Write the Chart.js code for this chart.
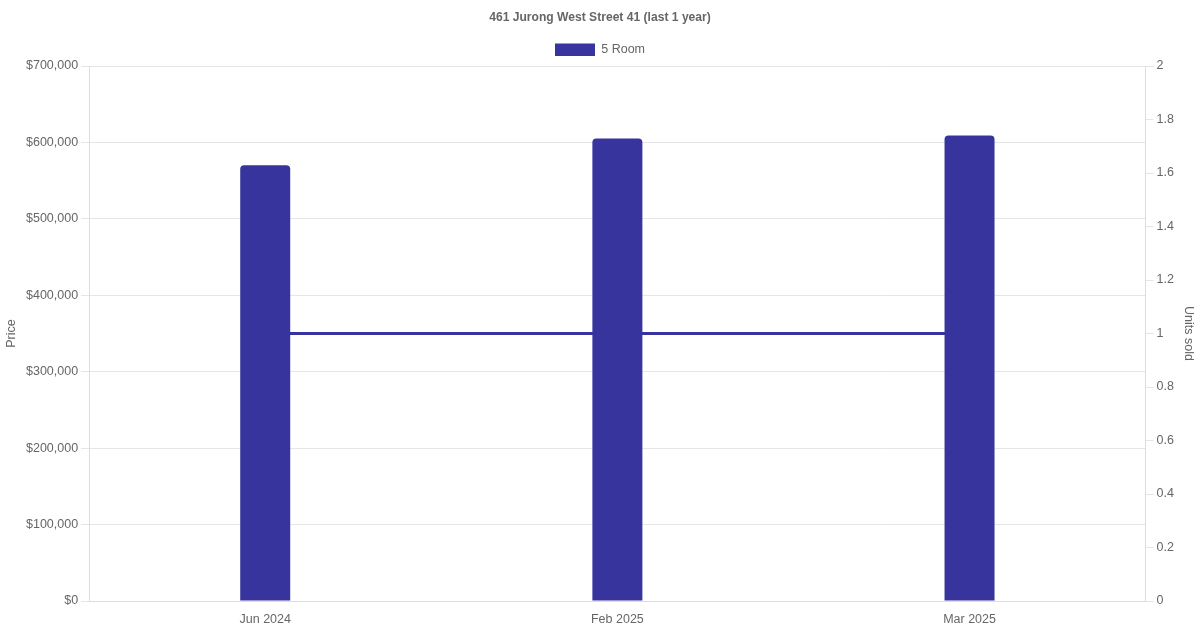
<!DOCTYPE html>
<html>
<head>
<meta charset="utf-8">
<script src="https://cdn.jsdelivr.net/npm/chart.js@4/dist/chart.umd.min.js"></script>
<style>
html,body{margin:0;padding:0;background:#fff;}
#wrap{width:1200px;height:630px;}
</style>
</head>
<body>
<div id="wrap"><canvas id="c" width="1200" height="630"></canvas></div>
<script>
const categories = ["Jun 2024", "Feb 2025", "Mar 2025"];
const priceValues = [570000, 605000, 609000];
const unitsSold = [1, 1, 1];
const seriesLabel = "5 Room";
const titleText = "461 Jurong West Street 41 (last 1 year)";

Chart.defaults.font.family = "'Helvetica Neue', Helvetica, Arial, sans-serif";
Chart.defaults.color = "#666";

new Chart(document.getElementById('c'), {
  data: {
    labels: categories,
    datasets: [
      {
        type: 'bar',
        label: seriesLabel,
        data: priceValues,
        backgroundColor: '#38349e',
        borderColor: '#38349e',
        borderWidth: 0,
        borderRadius: 4,
        borderSkipped: 'bottom',
        maxBarThickness: 50,
        yAxisID: 'y',
        order: 1
      },
      {
        type: 'line',
        label: 'Units sold',
        data: unitsSold,
        borderColor: '#38349e',
        backgroundColor: '#38349e',
        borderWidth: 3,
        pointRadius: 0,
        fill: false,
        yAxisID: 'y1',
        order: 2
      }
    ]
  },
  options: {
    responsive: false,
    animation: false,
    devicePixelRatio: 1,
    layout: { padding: { left: 0, right: 0, top: 0, bottom: 0 } },
    plugins: {
      title: {
        display: true,
        text: titleText,
        font: { size: 12.1, weight: 'bold' },
        color: '#666',
        padding: { top: 10, bottom: 9 }
      },
      legend: {
        display: true,
        labels: {
          filter: (item) => item.datasetIndex === 0,
          boxWidth: 40,
          font: { size: 12.5 },
          color: '#666'
        }
      },
      tooltip: { enabled: false }
    },
    scales: {
      x: {
        grid: { display: false },
        border: { color: '#ddd' },
        ticks: { font: { size: 12.5 }, color: '#666', padding: 3 }
      },
      y: {
        position: 'left',
        min: 0,
        max: 700000,
        ticks: {
          stepSize: 100000,
          font: { size: 12.5 },
          color: '#666',
          callback: (v) => '$' + v.toLocaleString('en-US')
        },
        grid: { color: '#e5e5e5' },
        border: { color: '#ddd' },
        title: { display: true, text: 'Price', font: { size: 12.5 }, color: '#666' }
      },
      y1: {
        position: 'right',
        min: 0,
        max: 2,
        ticks: {
          stepSize: 0.2,
          font: { size: 12.5 },
          color: '#666',
          callback: (v) => String(Math.round(v * 10) / 10)
        },
        grid: { drawOnChartArea: false, color: '#e5e5e5' },
        border: { color: '#ddd' },
        title: { display: true, text: 'Units sold', font: { size: 12.5 }, color: '#666' }
      }
    }
  }
});
</script>
</body>
</html>
